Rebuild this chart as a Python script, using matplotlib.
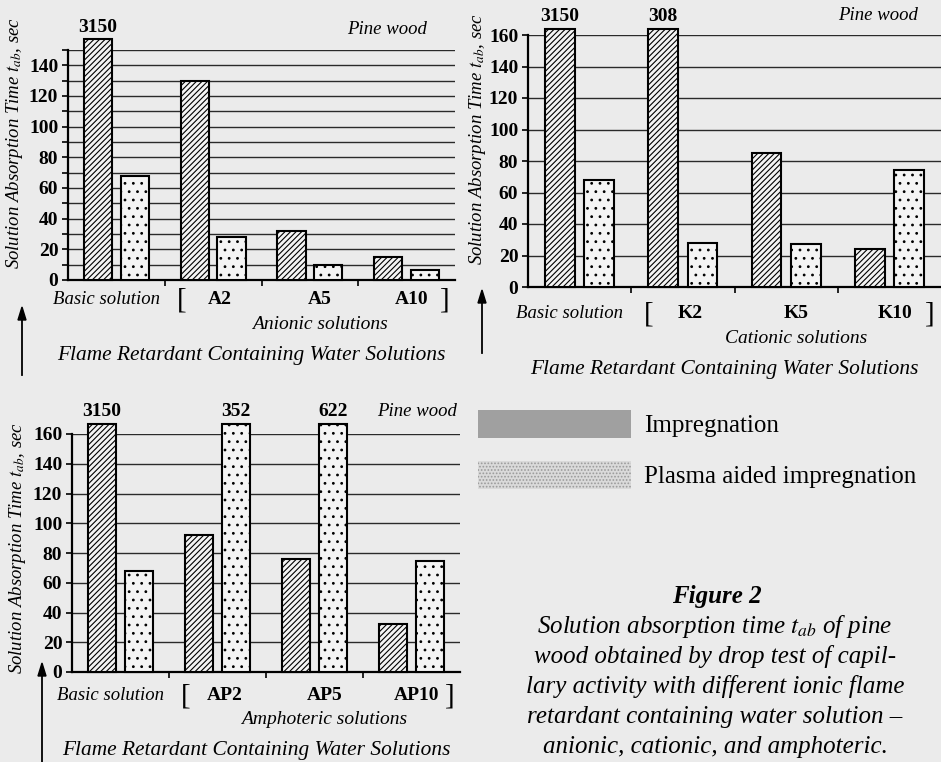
import numpy as np
import matplotlib.pyplot as plt
from matplotlib.patches import Patch

plt.rcParams['font.family'] = 'Liberation Serif'
plt.rcParams['mathtext.fontset'] = 'stix'
plt.rcParams['hatch.linewidth'] = 0.8

W, H = 941, 762
paper = '#ebebeb'

# absorption time, sec; bars taller than the axis are cut and get their value on top
basic_label = 'Basic solution'
anionic = ['A2', 'A5', 'A10']
anionic_imp = [3150, 130, 32, 15]
anionic_plasma = [68, 28, 10, 6.5]
cationic = ['K2', 'K5', 'K10']
cationic_imp = [3150, 308, 85, 24]
cationic_plasma = [68, 28, 27.5, 74]
amphoteric = ['AP2', 'AP5', 'AP10']
amphoteric_imp = [3150, 92, 76, 32]
amphoteric_plasma = [68, 352, 622, 74.5]

legend_labels = ['Impregnation', 'Plasma aided impregnation']
caption = ['Solution absorption time $t_{ab}$ of pine',
           'wood obtained by drop test of capil-',
           'lary activity with different ionic flame',
           'retardant containing water solution \u2013',
           'anionic, cationic, and amphoteric.']


def fx(x):
    return x / W


def fy(y):
    return 1 - y / H


def panel(fig, box, ymax, cap, minor, imp, plasma, names, group,
          lab_dy, arrow, ylab_xy, pine_xy):
    x0, y0, x1, y1 = box  # pixel box: left, top, right, bottom
    ax = fig.add_axes([fx(x0), fy(y1), (x1 - x0) / W, (y1 - y0) / H])
    ax.set_facecolor('none')
    x = np.arange(4)
    off, bw = 0.19, 0.29
    imp_h = np.minimum(imp, cap)
    pl_h = np.minimum(plasma, cap)
    ax.bar(x - off, imp_h, bw, facecolor='#f4f4f4', edgecolor='black',
           hatch='//////', lw=1.5, clip_on=False, zorder=3)
    ax.bar(x + off, pl_h, bw, facecolor='#f4f4f4', edgecolor='black',
           hatch='..', lw=1.5, clip_on=False, zorder=3)
    for xs, vals in ((x - off, imp), (x + off, plasma)):
        for xi, v in zip(xs, vals):
            if v > ymax:
                ax.annotate(str(v), xy=(xi, cap), xytext=(0, 12),
                            textcoords='offset pixels', ha='center', va='center',
                            fontsize=14, fontweight='bold', annotation_clip=False)

    ax.set_xlim(-0.5, 3.5)
    ax.set_ylim(0, ymax)
    ax.set_yticks(np.arange(0, ymax + 1, 20) if ymax % 20 == 0 else np.arange(0, ymax, 20))
    if minor:
        ax.set_yticks(np.arange(10, ymax + 1, 20), minor=True)
    ax.set_xticks([])
    ax.set_xticks([0.5, 1.5, 2.5], minor=True)
    ax.tick_params(axis='y', which='both', length=4, width=1.2, pad=3,
                   labelsize=14)
    ax.tick_params(axis='x', which='minor', length=4, width=1.2)
    for t in ax.get_yticklabels():
        t.set_fontweight('bold')
    ax.grid(axis='y', which='both', color='#2a2a2a', lw=1.0)
    ax.set_axisbelow(True)
    for s in ('top', 'right'):
        ax.spines[s].set_visible(False)
    for s in ('left', 'bottom'):
        ax.spines[s].set_linewidth(1.6)

    # category labels under the axis
    labels = [basic_label] + names
    shifts = [-0.1, 0.07, 0.1, 0.05]
    for i, lab in enumerate(labels):
        ax.annotate(lab, xy=(i + shifts[i], 0), xycoords=('data', 'axes fraction'),
                    xytext=(0, -lab_dy), textcoords='offset pixels', ha='center',
                    va='center', fontsize=13.5 if i == 0 else 14,
                    fontstyle='italic' if i == 0 else 'normal',
                    fontweight='normal' if i == 0 else 'bold', annotation_clip=False)
    for bx, br in ((0.67, '['), (3.39, ']')):
        ax.annotate(br, xy=(bx, 0), xycoords=('data', 'axes fraction'),
                    xytext=(0, -lab_dy - 1), textcoords='offset pixels', ha='center',
                    va='center', fontsize=21, annotation_clip=False)
    ax.annotate(group, xy=(2.1, 0), xycoords=('data', 'axes fraction'),
                xytext=(0, -lab_dy - 25), textcoords='offset pixels', ha='center',
                va='center', fontsize=14, fontstyle='italic', annotation_clip=False)
    ax.annotate('Flame Retardant Containing Water Solutions', xy=(1.4, 0),
                xycoords=('data', 'axes fraction'), xytext=(0, -lab_dy - 56),
                textcoords='offset pixels', ha='center', va='center',
                fontsize=15.4, fontstyle='italic', annotation_clip=False)

    ax_x, a_bot, a_top = arrow
    fig.add_artist(plt.Line2D([fx(ax_x)] * 2, [fy(a_bot), fy(a_top) - 0.008],
                              color='black', lw=1.3))
    fig.add_artist(plt.Polygon([[fx(ax_x), fy(a_top)],
                                [fx(ax_x - 4), fy(a_top + 13)],
                                [fx(ax_x + 4), fy(a_top + 13)]],
                               closed=True, color='black'))
    fig.text(fx(ylab_xy[0]), fy(ylab_xy[1]),
             'Solution Absorption Time $t_{ab}$, sec', rotation=90,
             ha='center', va='center', fontsize=13.5, fontstyle='italic')
    fig.text(fx(pine_xy[0]), fy(pine_xy[1]), 'Pine wood', ha='center',
             va='center', fontsize=13.5, fontstyle='italic')
    return ax


fig = plt.figure(figsize=(W / 100, H / 100), dpi=100, facecolor=paper)

panel(fig, (68, 50, 455, 280), 150, 157, True, anionic_imp, anionic_plasma,
      anionic, 'Anionic solutions', 20, (22, 375, 307), (15, 143), (387, 29))
panel(fig, (528, 35, 941, 287), 160, 164, False, cationic_imp, cationic_plasma,
      cationic, 'Cationic solutions', 26, (482, 353, 290), (477, 139), (878, 15))
panel(fig, (72, 434, 460, 672), 160, 167, False, amphoteric_imp, amphoteric_plasma,
      amphoteric, 'Amphoteric solutions', 23, (42, 762, 663), (18, 548), (417, 412))

handles = [Patch(facecolor='#a0a0a0', edgecolor='none'),
           Patch(facecolor='#dadada', edgecolor='#9a9a9a', hatch='.....', lw=0)]
fig.legend(handles, legend_labels, loc='upper left',
           bbox_to_anchor=(fx(478), fy(410)), frameon=False, fontsize=18,
           handlelength=6.1, handleheight=1.35, handletextpad=0.55,
           labelspacing=0.9, borderpad=0, borderaxespad=0)

fig.text(fx(717), fy(597), 'Figure 2', ha='center', va='center', fontsize=18,
         fontstyle='italic', fontweight='bold')
for i, line in enumerate(caption):
    fig.text(fx(715), fy(627 + 30 * i), line, ha='center', va='center',
             fontsize=18, fontstyle='italic')

fig.savefig('out.png', dpi=100, facecolor=paper)
